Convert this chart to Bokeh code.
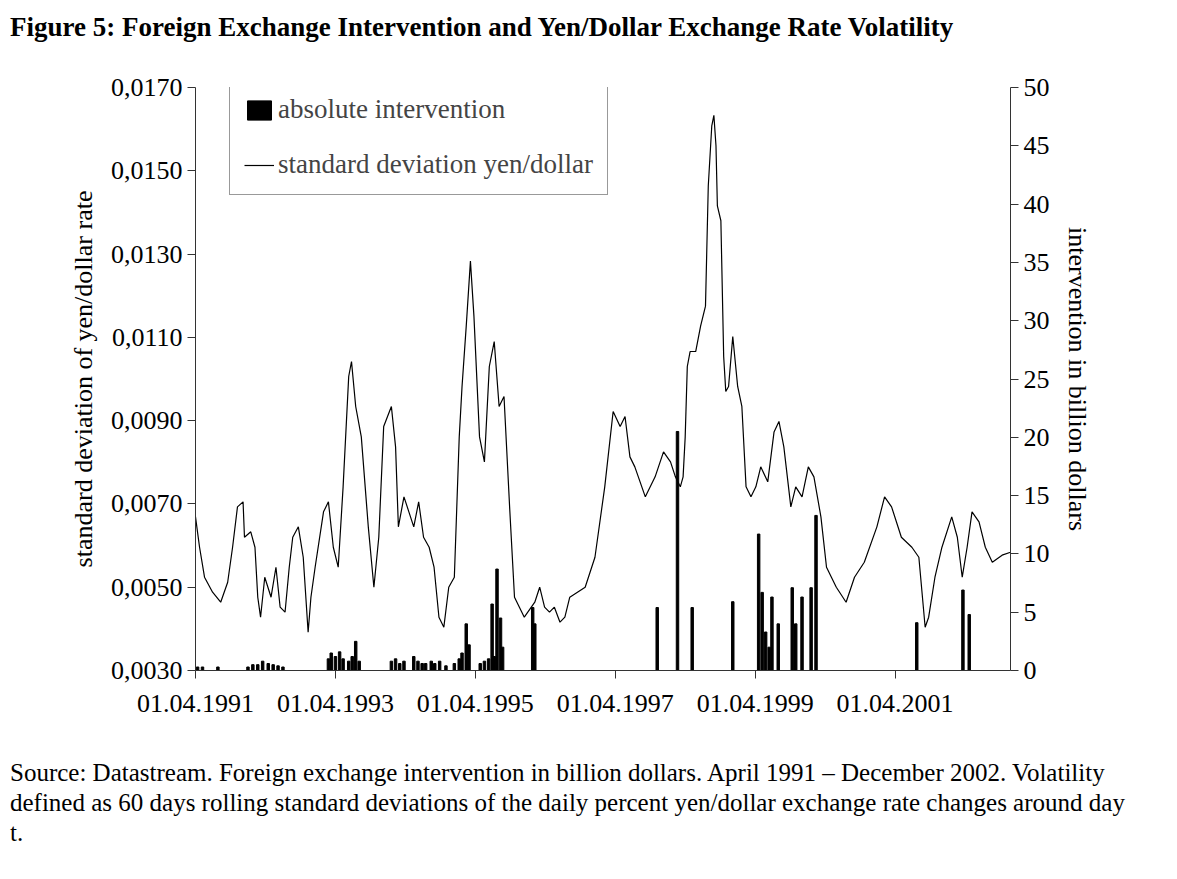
from bokeh.plotting import figure
from bokeh.models import Range1d, LinearAxis, FixedTicker, Legend, LegendItem, Div
from bokeh.layouts import column
from bokeh.embed import file_html
from bokeh.resources import INLINE

vol_t = [0, .058, .129, .244, .36, .46, .53, .60, .68, .70, .79, .85, .89, .93, .99, 1.08, 1.15, 1.21, 1.28, 1.34,
         1.39, 1.47, 1.54, 1.61, 1.65, 1.71, 1.83, 1.90, 1.97, 2.04, 2.11, 2.19, 2.23, 2.29, 2.37, 2.47, 2.55, 2.62,
         2.69, 2.80, 2.86, 2.90, 2.98, 3.05, 3.12, 3.19, 3.26, 3.34, 3.41, 3.48, 3.55, 3.62, 3.70, 3.77, 3.81, 3.87,
         3.93, 3.98, 4.06, 4.13, 4.20, 4.27, 4.34, 4.41, 4.49, 4.56, 4.63, 4.70, 4.85, 4.92, 4.99, 5.06, 5.13, 5.21,
         5.28, 5.35, 5.57, 5.71, 5.85, 5.97, 6.07, 6.14, 6.21, 6.28, 6.43, 6.57, 6.69, 6.79, 6.86, 6.93, 6.97, 7.00,
         7.03, 7.07, 7.15, 7.22, 7.29, 7.33, 7.38, 7.41, 7.44, 7.46, 7.51, 7.55, 7.58, 7.62, 7.68, 7.75, 7.81, 7.87,
         7.94, 8.01, 8.08, 8.18, 8.27, 8.34, 8.41, 8.51, 8.58, 8.67, 8.76, 8.84, 8.94, 9.02, 9.16, 9.30, 9.42, 9.56,
         9.74, 9.85, 9.95, 10.09, 10.24, 10.34, 10.43, 10.48, 10.57, 10.67, 10.81, 10.89, 10.96, 11.03, 11.10, 11.20,
         11.29, 11.39, 11.53, 11.65]
vol = [.00669, .00596, .00524, .00488, .00464, .00512, .00596, .00693, .00705, .00620, .00633, .00596, .00476, .00428,
       .00524, .00476, .00548, .00452, .00440, .00548, .00620, .00645, .00572, .00392, .00476, .00548, .00681, .00705,
       .00596, .00548, .00741, .01006, .01042, .00934, .00861, .00645, .00500, .00620, .00886, .00934, .00837, .00645,
       .00717, .00681, .00645, .00705, .00620, .00596, .00548, .00428, .00404, .00500, .00524, .00861, .00982, .01127,
       .01283, .01151, .00861, .00801, .01030, .01090, .00934, .00958, .00693, .00476, .00452, .00428, .00464, .00500,
       .00452, .00440, .00452, .00416, .00428, .00476, .00500, .00572, .00741, .00922, .00886, .00910, .00813, .00789,
       .00717, .00765, .00825, .00801, .00765, .00741, .00765, .00861, .01030, .01066, .01066, .01127, .01175, .01464,
       .01608, .01633, .01560, .01416, .01380, .01054, .00970, .00982, .01102, .00982, .00934, .00741, .00717, .00741,
       .00789, .00753, .00873, .00898, .00837, .00693, .00741, .00717, .00789, .00765, .00669, .00548, .00500, .00464,
       .00524, .00560, .00645, .00717, .00693, .00620, .00596, .00572, .00404, .00428, .00524, .00596, .00669, .00620,
       .00524, .00596, .00681, .00657, .00596, .00560, .00577, .00584]
vol_x = [1991.25 + t for t in vol_t]

int_t = [.03, .10, .32, .75, .82, .89, .96, 1.04, 1.11, 1.18, 1.25, 1.90, 1.94, 2.0, 2.06, 2.11, 2.19, 2.24, 2.29, 2.34,
         2.80, 2.86, 2.92, 2.98, 3.12, 3.18, 3.24, 3.29, 3.37, 3.42, 3.49, 3.58, 3.70, 3.77, 3.81, 3.87, 3.91, 4.07,
         4.13, 4.19, 4.24, 4.27, 4.31, 4.36, 4.39, 4.82, 4.85, 6.60, 6.89, 7.10, 7.68, 8.05, 8.10, 8.15, 8.20, 8.24,
         8.33, 8.53, 8.58, 8.67, 8.80, 8.87, 10.31, 10.97, 11.06]
intv = [.3, .3, .3, .3, .5, .5, .8, .6, .5, .4, .3, 1.0, 1.5, 1.2, 1.6, 1.0, .8, 1.2, 2.5, .8,
        .8, 1.0, .6, .8, 1.2, .8, .6, .6, .8, .6, .8, .4, .6, 1.0, 1.5, 4.0, 2.2, .6,
        .8, 1.0, 5.7, 1.2, 8.7, 4.5, 2.0, 5.4, 4.0, 5.4, 20.5, 5.4, 5.9, 11.7, 6.7, 3.3, 2.0, 6.3,
        4.0, 7.1, 4.0, 6.3, 7.1, 13.3, 4.1, 6.9, 4.8]
int_x = [1991.25 + t for t in int_t]

x_ticks = [1991.25, 1993.25, 1995.25, 1997.25, 1999.25, 2001.25]
x_labels = ["01.04.1991", "01.04.1993", "01.04.1995", "01.04.1997", "01.04.1999", "01.04.2001"]
y_ticks = [0.003, 0.005, 0.007, 0.009, 0.011, 0.013, 0.015, 0.017]
y_labels = ["0,0030", "0,0050", "0,0070", "0,0090", "0,0110", "0,0130", "0,0150", "0,0170"]

F = "Liberation Serif"

p = figure(width=1150, height=675, output_backend="svg", toolbar_location=None,
           x_range=Range1d(1991.25, 2002.9), y_range=Range1d(0.003, 0.017),
           min_border_left=195, min_border_right=140, min_border_top=22, min_border_bottom=70)
p.outline_line_color = None
p.grid.visible = False
p.extra_y_ranges = {"r": Range1d(0, 50)}

bars = p.vbar(x=int_x, top=intv, bottom=0, width=0.035, color="black", y_range_name="r")
ln = p.line(vol_x, vol, color="black", line_width=1.2)

p.xaxis.ticker = FixedTicker(ticks=x_ticks)
p.xaxis.major_label_overrides = {t: l for t, l in zip(x_ticks, x_labels)}
p.yaxis.ticker = FixedTicker(ticks=y_ticks)
p.yaxis.major_label_overrides = {t: l for t, l in zip(y_ticks, y_labels)}
p.yaxis.axis_label = "standard deviation of yen/dollar rate"

ra = LinearAxis(y_range_name="r", ticker=FixedTicker(ticks=list(range(0, 51, 5))),
                axis_label="intervention in billion dollars", axis_label_orientation="vertical")
p.add_layout(ra, "right")

for ax in p.axis:
    ax.axis_line_color = "#333"
    ax.major_tick_line_color = "#333"
    ax.major_tick_out = 8
    ax.major_tick_in = 0
    ax.minor_tick_line_color = None
    ax.major_label_text_font = F
    ax.major_label_text_font_size = "26px"
    ax.major_label_text_color = "black"
    ax.axis_label_text_font = F
    ax.axis_label_text_font_size = "26px"
    ax.axis_label_text_font_style = "normal"
    ax.axis_label_text_color = "black"
    ax.axis_label_standoff = 10
p.xaxis.major_label_standoff = 16

leg = Legend(items=[LegendItem(label="absolute intervention", renderers=[bars]),
                    LegendItem(label="standard deviation yen/dollar", renderers=[ln])],
             location=(34, 475), label_text_font=F, label_text_font_size="27px",
             border_line_color="#333", glyph_width=30, glyph_height=24, spacing=24,
             padding=14, label_standoff=4, background_fill_alpha=1)
p.add_layout(leg)

title = Div(text="<b>Figure 5: Foreign Exchange Intervention and Yen/Dollar Exchange Rate Volatility</b>",
            width=1150, height=52,
            styles={"font-family": F, "font-size": "27px", "color": "black", "margin-top": "8px", "margin-left": "10px"})
src = Div(text="Source: Datastream. Foreign exchange intervention in billion dollars. April 1991 – December "
               "2002. Volatility defined as 60 days rolling standard deviations of the daily percent yen/dollar "
               "exchange rate changes around day t.",
          width=1130, height=110,
          styles={"font-family": F, "font-size": "25px", "color": "black", "line-height": "30px",
                  "margin-top": "18px", "margin-left": "10px"})

lay = column(title, p, src, spacing=0)
open("out.html", "w").write(file_html(lay, INLINE))
